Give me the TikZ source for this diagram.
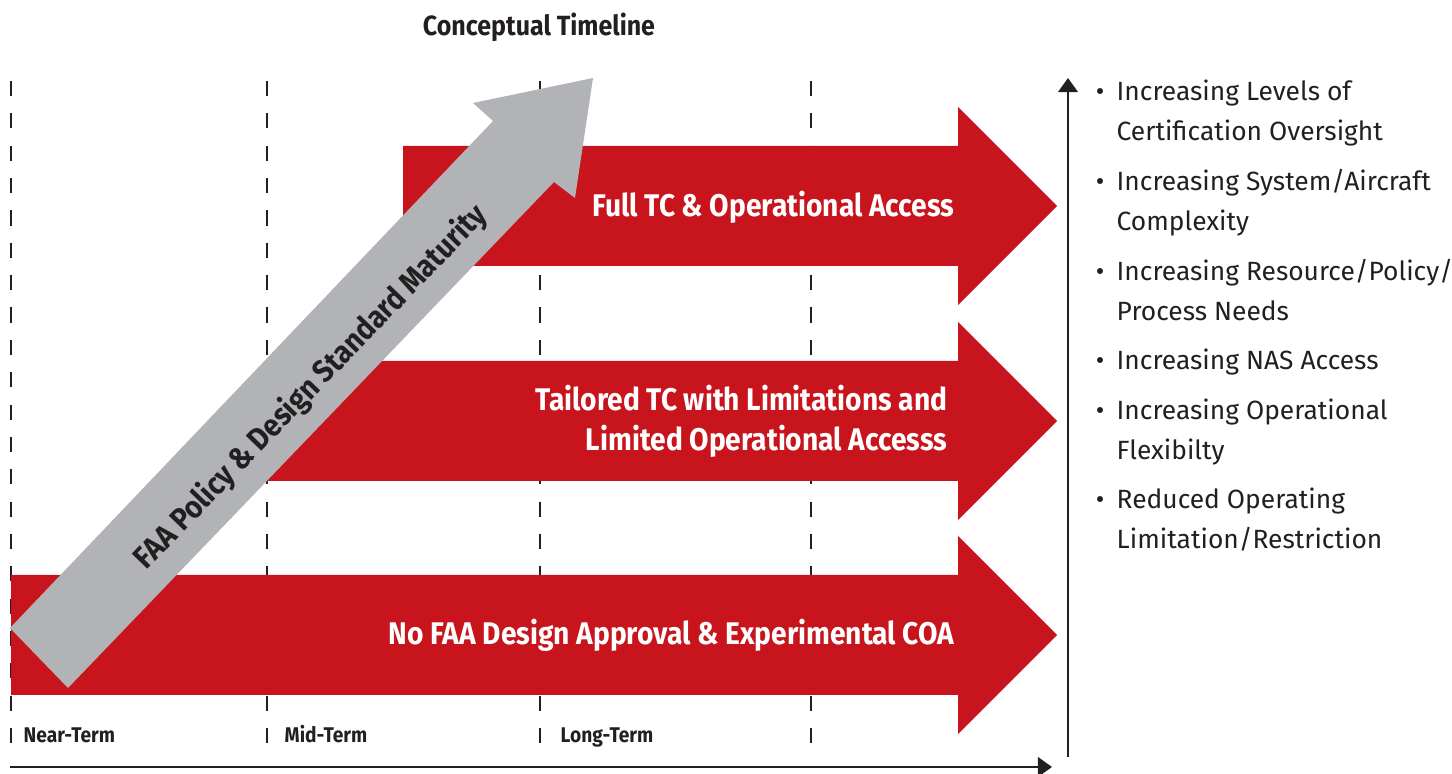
\documentclass[tikz,border=0pt]{standalone}
\usepackage{fontspec}
\setmainfont{Fira Sans}[FakeStretch=0.9]
\newfontfamily\listfont{Fira Sans}
\usetikzlibrary{arrows.meta}
\definecolor{faared}{HTML}{C8141C}
\definecolor{arrowgrey}{HTML}{B1B3B6}
\definecolor{inkdark}{HTML}{231F20}
\def\headx{958}
\def\tipx{1057}

\begin{document}
\begin{tikzpicture}
    [
        x=0.01cm, y=-0.01cm,
        redarrow/.style={fill=faared, draw=none},
        greyarrow/.style={fill=arrowgrey, draw=none},
        timeline/.style={inkdark, line width=0.8pt, dash pattern=on 4.3pt off 4.9pt},
        axis/.style={inkdark, line width=0.8pt, -{Triangle[length=4pt,width=5.5pt]}},
        redlabel/.style={text=white, inner sep=0pt, align=right,
            font=\bfseries\fontsize{8.9}{11.4}\selectfont},
        termlabel/.style={text=inkdark, inner sep=0pt, anchor=base west,
            font=\bfseries\fontsize{6.05}{7}\selectfont},
        listitem/.style={text=inkdark, inner sep=0pt, anchor=base west, align=left,
            font=\listfont\fontsize{7.5}{11.4}\selectfont}
    ]
    \useasboundingbox (0,0) rectangle (1452,774);

    % term boundaries
    \foreach \tx in {11,267,540,811}
    {
        \draw[timeline] (\tx,81) -- (\tx,745);
    }

    % approval arrows
    \foreach \bx/\cy in {403/206, 267/421, 11/635}
    {
        \fill[redarrow] (\bx,\cy-60) -- (\headx,\cy-60) -- (\headx,\cy-99)
            -- (\tipx,\cy) -- (\headx,\cy+99) -- (\headx,\cy+60)
            -- (\bx,\cy+60) -- cycle;
    }

    % maturity arrow
    \fill[greyarrow] (10,628) -- (493,121) -- (473,103) -- (593,78)
        -- (575,198) -- (554,182) -- (68,688) -- cycle;

    \node[redlabel, anchor=base east] (fulltc) at (955,217) {Full TC \& Operational Access};
    \node[redlabel, anchor=base east] (tailored) at (948,451)
        {Tailored TC with Limitations and\\Limited Operational Accesss};
    \node[redlabel, anchor=base east] (nofaa) at (955,645)
        {No FAA Design Approval \& Experimental COA};
    \node[redlabel, text=inkdark, rotate=46] (maturity) at (311,387)
        {FAA Policy \& Design Standard Maturity};

    \node[text=inkdark, anchor=base, inner sep=0pt,
        font=\bfseries\fontsize{7.9}{9}\selectfont] (title) at (539,36)
        {Conceptual Timeline};

    \node[termlabel] (nearterm) at (23,743) {Near-Term};
    \node[termlabel] (midterm) at (284,743) {Mid-Term};
    \node[termlabel] (longterm) at (560,743) {Long-Term};

    % axes
    \coordinate (xstart) at (10,767);
    \coordinate (xend) at (1052,767);
    \coordinate (ystart) at (1068,757);
    \coordinate (yend) at (1068,78);
    \draw[axis] (xstart) -- (xend);
    \draw[axis] (ystart) -- (yend);

    % outcomes (base = last line)
    \node[listitem] (item1) at (1116,141)
        {\llap{\textbullet\hspace{3.5pt}}Increasing Levels of\\Certification Oversight};
    \node[listitem] (item2) at (1116,231)
        {\llap{\textbullet\hspace{3.5pt}}Increasing System/Aircraft\\Complexity};
    \node[listitem] (item3) at (1116,321)
        {\llap{\textbullet\hspace{3.5pt}}Increasing Resource/Policy/\\Process Needs};
    \node[listitem] (item4) at (1116,370)
        {\llap{\textbullet\hspace{3.5pt}}Increasing NAS Access};
    \node[listitem] (item5) at (1116,460)
        {\llap{\textbullet\hspace{3.5pt}}Increasing Operational\\Flexibilty};
    \node[listitem] (item6) at (1116,549)
        {\llap{\textbullet\hspace{3.5pt}}Reduced Operating\\Limitation/Restriction};
\end{tikzpicture}
\end{document}
